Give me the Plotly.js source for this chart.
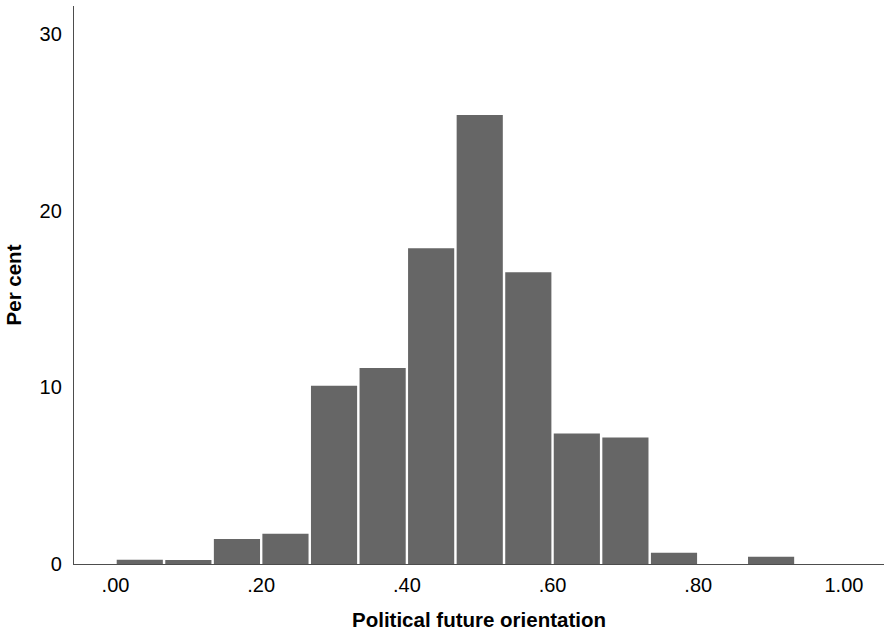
<!DOCTYPE html>
<html>
<head>
<meta charset="utf-8">
<script src="https://cdn.plot.ly/plotly-3.0.1.min.js"></script>
<style>
  html, body { margin: 0; padding: 0; background: #fff; }
  #chart { width: 884px; height: 633px; }
</style>
</head>
<body>
<div id="chart"></div>
<script>
// Histogram bins (mid-points) and percentages
const binMid = [0.0333, 0.1000, 0.1667, 0.2333, 0.3000, 0.3667, 0.4333, 0.5000,
                0.5667, 0.6333, 0.7000, 0.7667, 0.8333, 0.9000, 0.9667];
const binWidth = 0.0667;
const percent = [0.24, 0.23, 1.42, 1.71, 10.09, 11.09, 17.87, 25.4,
                 16.5, 7.38, 7.15, 0.63, 0, 0.41, 0];
const xTickVals = [0, 0.2, 0.4, 0.6, 0.8, 1.0];
const xTickText = ['.00', '.20', '.40', '.60', '.80', '1.00'];
const yTickVals = [0, 10, 20, 30];
const yTickText = ['0', '10', '20', '30'];

const trace = {
  type: 'bar',
  x: binMid,
  y: percent,
  width: binWidth * 0.95,
  marker: { color: '#666666', line: { width: 0 } },
  hoverinfo: 'x+y'
};

const layout = {
  width: 884,
  height: 633,
  margin: { l: 74, r: 0, t: 6, b: 69 },
  paper_bgcolor: '#ffffff',
  plot_bgcolor: '#ffffff',
  showlegend: false,
  font: { family: 'Liberation Sans, Arial, sans-serif', color: '#000', size: 20 },
  xaxis: {
    range: [-0.057, 1.055],
    tickvals: xTickVals,
    ticktext: xTickText,
    showgrid: false,
    zeroline: false,
    showline: true,
    linecolor: '#4d4d4d',
    linewidth: 1.2,
    ticks: '',
    ticklabelstandoff: 3,
    tickfont: { size: 20 },
    title: { text: '<b>Political future orientation</b>', font: { size: 20.5 }, standoff: 17 }
  },
  yaxis: {
    range: [0, 31.57],
    tickvals: yTickVals,
    ticktext: yTickText,
    showgrid: false,
    zeroline: false,
    showline: true,
    linecolor: '#4d4d4d',
    linewidth: 1.2,
    ticks: '',
    ticklabelstandoff: 7,
    tickfont: { size: 20 },
    title: { text: '<b>Per cent</b>', font: { size: 20.5 }, standoff: 12 }
  }
};

Plotly.newPlot('chart', [trace], layout, { displayModeBar: false, staticPlot: true });
</script>
</body>
</html>
